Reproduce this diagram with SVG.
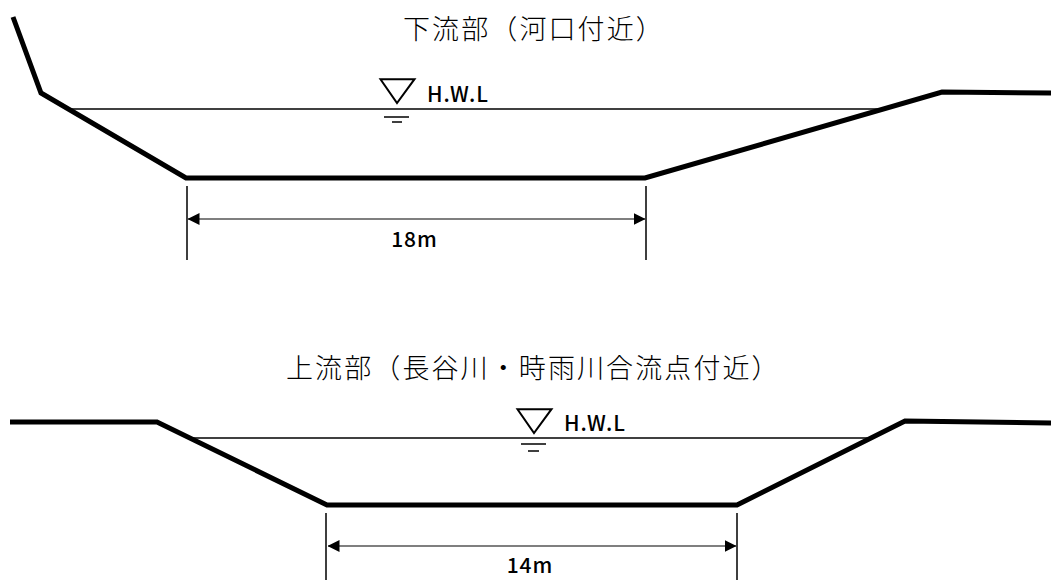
<svg xmlns="http://www.w3.org/2000/svg" width="1051" height="583" viewBox="0 0 1051 583">
<defs>
<marker id="a" markerUnits="userSpaceOnUse" markerWidth="12" markerHeight="12" refX="11.500" refY="6" orient="auto-start-reverse"><path d="M0 0L12 6L0 12Z" fill="#000"/></marker>
<path id="tri" d="M1.500 1.200H35.500L18 25Z" fill="none" stroke="#000" stroke-width="2"/>
</defs>
<style>
.g{fill:none;stroke:#000;stroke-width:5px}
.l{fill:none;stroke:#000;stroke-width:1.500px}
.d{fill:none;stroke:#555;stroke-width:1.300px}
.t{font-family:"Noto Sans CJK JP","Noto Sans",sans-serif;fill:#000}
.h{font-size:27px;letter-spacing:2.100px;font-weight:300}
.b{font-size:21px;font-weight:500;letter-spacing:1px}
</style>
<rect width="1051" height="583" fill="#fff"/>
<g id="connectors">
<path class="g" d="M13 17L41 93L186 178H645L942 92L1051 93"/>
<path class="l" d="M70 109H882"/>
<path class="l" d="M187 186V260M646 186V260"/>
<path class="d" d="M188 219H645" marker-start="url(#a)" marker-end="url(#a)"/>
<path class="g" d="M10 422H157L327 505H737L905 421L1051 423"/>
<path class="l" d="M190 438H870"/>
<path class="l" d="M326 513V580M737 513V580"/>
<path class="d" d="M328 546H736" marker-start="url(#a)" marker-end="url(#a)"/>
</g>
<g id="title-lower"><text class="t h" x="403" y="38.500">下流部（河口付近）</text></g>
<g id="hwl-lower"><use href="#tri" x="379" y="78"/><path class="l" d="M384 117H409M392 122H402"/><text class="t b" x="427" y="102">H.W.L</text></g>
<g id="dim-lower"><text class="t b" x="414.500" y="247" text-anchor="middle">18m</text></g>
<g id="title-upper"><text class="t h" x="286" y="378">上流部（長谷川・時雨川合流点付近）</text></g>
<g id="hwl-upper"><use href="#tri" x="516" y="408"/><path class="l" d="M521 444H546M528 451H539"/><text class="t b" x="564" y="431">H.W.L</text></g>
<g id="dim-upper"><text class="t b" x="530" y="573" text-anchor="middle">14m</text></g>
</svg>
